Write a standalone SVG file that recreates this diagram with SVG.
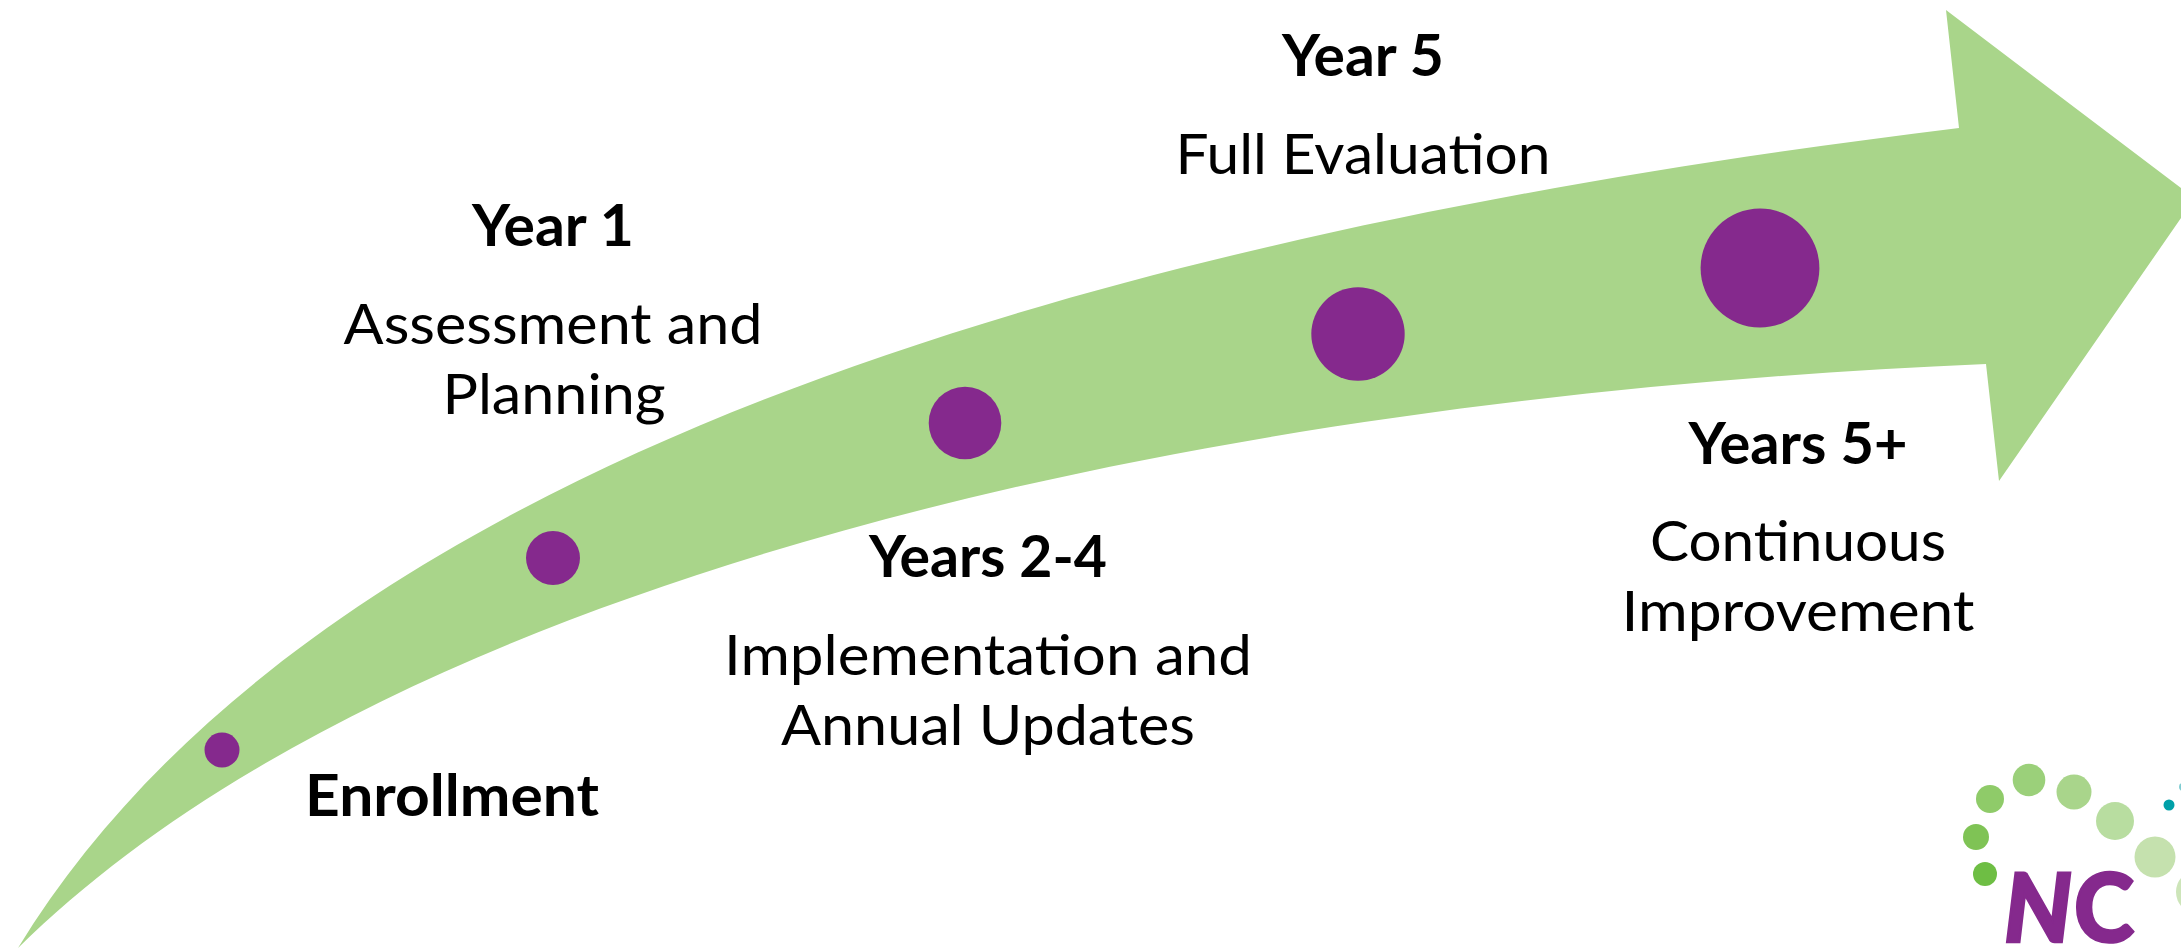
<svg xmlns="http://www.w3.org/2000/svg" width="2181" height="948" viewBox="0 0 2181 948">
<style>
text{font-family:"Lato","Carlito","Liberation Sans",sans-serif;fill:#000;text-anchor:middle;font-size:57px}
.h{font-weight:700}
.dot{fill:#85298D}
.nc{font-size:96px;font-weight:900;fill:#85298D;stroke:#85298D;stroke-width:2.5;text-anchor:start}
</style>
<rect width="2181" height="948" fill="#fff"/>
<g id="arrow"><path fill="#A9D58A" d="M18,948 C295,495 1000,245 1959,128 L1946,10 L2181,188 L2181,218 L1999,481 L1986,364 C1100,402 360,610 18,948 Z"/></g>
<g id="enrollment"><circle class="dot" cx="222" cy="750" r="17.5"/><text class="h" x="452" y="816" textLength="294" lengthAdjust="spacingAndGlyphs">Enrollment</text></g>
<g id="year1"><circle class="dot" cx="553" cy="558" r="27"/><text class="h" x="553" y="246" textLength="162" lengthAdjust="spacingAndGlyphs">Year 1</text><text x="553" y="344" textLength="419" lengthAdjust="spacingAndGlyphs">Assessment and</text><text x="554" y="414" textLength="223" lengthAdjust="spacingAndGlyphs">Planning</text></g>
<g id="years2-4"><circle class="dot" cx="965" cy="423" r="36.3"/><text class="h" x="988" y="577" textLength="238" lengthAdjust="spacingAndGlyphs">Years 2-4</text><text x="988" y="675" textLength="528" lengthAdjust="spacingAndGlyphs">Implementation and</text><text x="988" y="745" textLength="414" lengthAdjust="spacingAndGlyphs">Annual Updates</text></g>
<g id="year5"><circle class="dot" cx="1358" cy="334" r="46.7"/><text class="h" x="1363" y="76" textLength="162" lengthAdjust="spacingAndGlyphs">Year 5</text><text x="1363" y="174" textLength="375" lengthAdjust="spacingAndGlyphs">Full Evaluation</text></g>
<g id="years5plus"><circle class="dot" cx="1760" cy="268" r="59.4"/><text class="h" x="1798" y="464" textLength="219" lengthAdjust="spacingAndGlyphs">Years 5+</text><text x="1798" y="561" textLength="296" lengthAdjust="spacingAndGlyphs">Continuous</text><text x="1798" y="631" textLength="353" lengthAdjust="spacingAndGlyphs">Improvement</text></g>
<g id="logo">
<circle cx="1985" cy="874" r="12" fill="#6EBE44"/>
<circle cx="1976" cy="837" r="13" fill="#7FC355"/>
<circle cx="1990" cy="799" r="14" fill="#8FCB69"/>
<circle cx="2029" cy="780" r="16.3" fill="#9BD07A"/>
<circle cx="2074" cy="792" r="17.5" fill="#A9D58B"/>
<circle cx="2115" cy="821" r="19" fill="#B8DDA0"/>
<circle cx="2155" cy="857" r="20.5" fill="#C5E1AE"/>
<circle cx="2198" cy="892" r="22" fill="#CDE5B9"/>
<circle cx="2169" cy="805" r="5.5" fill="#00A0A8"/>
<circle cx="2183" cy="787" r="4" fill="#7FCDD2"/>
<text class="nc" x="2004" y="942" font-style="italic" textLength="68" lengthAdjust="spacingAndGlyphs">N</text>
<text class="nc" x="2074" y="942" textLength="60" lengthAdjust="spacingAndGlyphs">C</text>
</g>
</svg>
